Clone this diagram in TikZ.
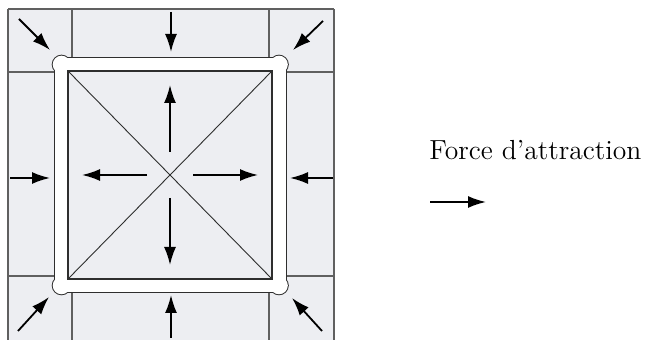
\documentclass[tikz,border=0pt]{standalone}
\usetikzlibrary{arrows.meta, calc}

\definecolor{tilegray}{HTML}{EDEEF2}
\definecolor{gridgray}{HTML}{606060}
\definecolor{framedark}{HTML}{2E2E2E}

\begin{document}
\begin{tikzpicture}[
    x=0.5pt, y=-0.5pt,
    gridline/.style={draw=gridgray, line width=0.7pt},
    force/.style={-{Latex[length=9pt, width=6pt]}, line width=0.9pt},
    band/.style={line width=#1, join=round},
    font=\fontsize{13.8}{16}\selectfont
  ]
    \useasboundingbox (0,0) rectangle (647,340);

    % tiles
    \fill[tilegray] (8,9) rectangle (334,340);
    \foreach \x in {8,72,269,334}
      \draw[gridline] (\x,9) -- (\x,340);
    \foreach \y in {9,72,276}
      \draw[gridline] (8,\y) -- (334,\y);

    % frame corners
    \coordinate (nw) at (61.5,64.5);
    \coordinate (ne) at (279,64.5);
    \coordinate (se) at (279,285.5);
    \coordinate (sw) at (61.5,285.5);
    \draw[band=7.6pt, framedark] (nw) -- (ne) -- (se) -- (sw) -- cycle;
    \foreach \k in {nw,ne,se,sw}
      \fill[framedark] (\k) circle (9.8);
    \draw[band=6.6pt, white] (nw) -- (ne) -- (se) -- (sw) -- cycle;
    \foreach \k in {nw,ne,se,sw}
      \fill[white] (\k) circle (8.8);

    % inner square
    \coordinate (a) at (68,71);
    \coordinate (b) at (272,71);
    \coordinate (d) at (272,279);
    \coordinate (e) at (68,279);
    \filldraw[fill=tilegray, draw=framedark, line width=0.8pt] (a) -- (b) -- (d) -- (e) -- cycle;
    \draw[framedark, line width=0.45pt] (a) -- (d) (b) -- (e);
    \coordinate (c) at (170,175);

    % inner forces
    \draw[force] ($(c)+(0,-23)$) -- ++(0,-67);
    \draw[force] ($(c)+(0,23)$) -- ++(0,67);
    \draw[force] ($(c)+(-23,0)$) -- ++(-65,0);
    \draw[force] ($(c)+(23,0)$) -- ++(65,0);

    % outer forces
    \draw[force] (171,12) -- (171,52);
    \draw[force] (171,338) -- (171,295);
    \draw[force] (10,178) -- (50,178);
    \draw[force] (333,178) -- (290,178);
    \draw[force] (19,19) -- (50,50);
    \draw[force] (323,21) -- (293,50);
    \draw[force] (18,331) -- (49,297);
    \draw[force] (322,331) -- (292,298);

    % legend
    \node[anchor=base west, inner sep=0pt] (lbl) at (429,160) {Force d'attraction};
    \coordinate (legstart) at (430,202);
    \draw[force] (legstart) -- ++(56,0);
  \end{tikzpicture}
\end{document}
